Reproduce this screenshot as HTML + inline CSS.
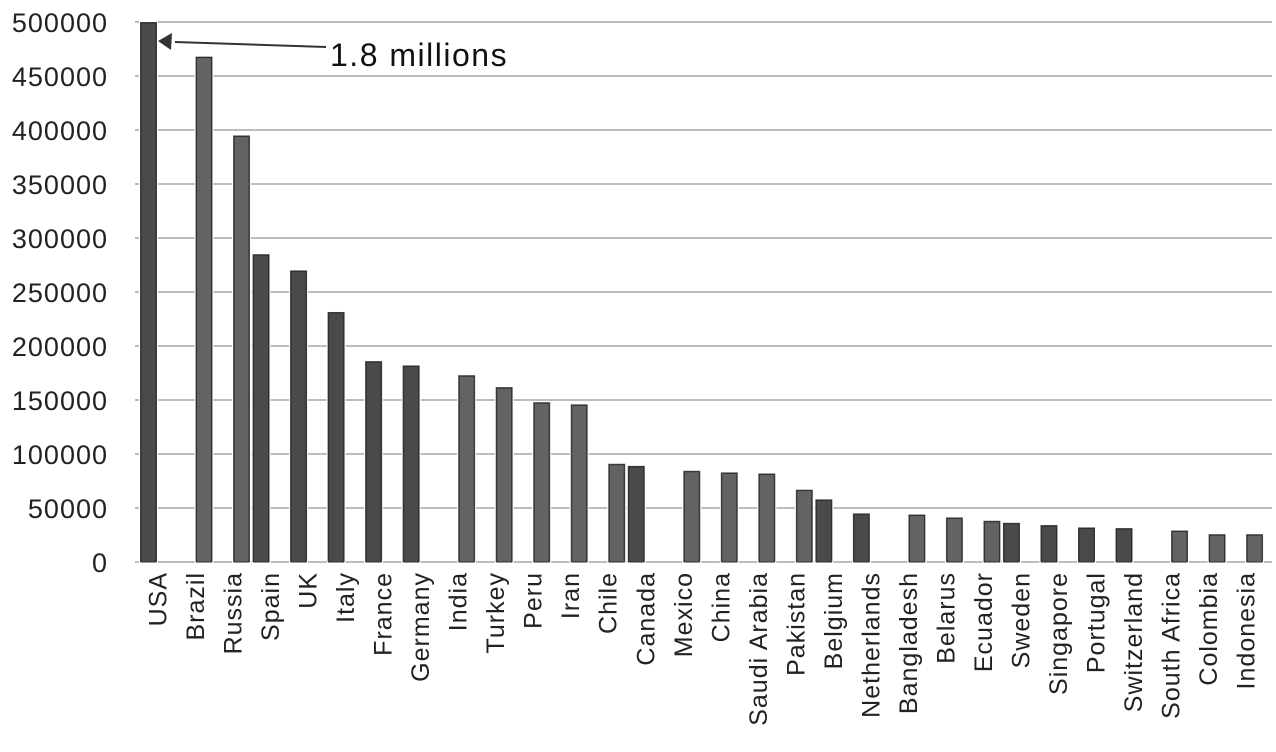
<!DOCTYPE html>
<html><head><meta charset="utf-8"><style>
body{margin:0;background:#fff;}
svg{display:block;font-family:"Liberation Sans",sans-serif;}
</style></head><body>
<svg id="chart" width="1276" height="752"></svg>
<script>
const categories=["USA","Brazil","Russia","Spain","UK","Italy","France","Germany","India","Turkey","Peru","Iran","Chile","Canada","Mexico","China","Saudi Arabia","Pakistan","Belgium","Netherlands","Bangladesh","Belarus","Ecuador","Sweden","Singapore","Portugal","Switzerland","South Africa","Colombia","Indonesia"];
const values=[1800000,468000,395000,285000,270000,231500,186000,182000,173000,162000,148000,146000,91000,89000,84500,83000,82000,67000,58000,45000,44000,41300,38200,36300,34200,32000,31400,29200,25800,25800];
const seriesSlot=[0,1,1,0,0,0,0,0,1,1,1,1,1,0,1,1,1,1,0,0,1,1,1,0,0,0,0,1,1,1];
const yTicks=[0,50000,100000,150000,200000,250000,300000,350000,400000,450000,500000];
const annotationText="1.8 millions";

const svg=document.getElementById('chart');
const NS="http://www.w3.org/2000/svg";
const yMax=500000, y0=562, yTop=22, xL=135, xR=1272;
const c0=157.5, band=37.52, barW=17;
function y(v){return y0-(Math.min(v,yMax)/yMax)*(y0-yTop);}
function xc(i){return c0+band*i;}
function mk(t,a){const e=document.createElementNS(NS,t);for(const k in a)e.setAttribute(k,a[k]);svg.appendChild(e);return e;}

yTicks.forEach(t=>{
  const l=mk('line',{x1:xL,x2:xR,y1:y(t),y2:y(t),stroke:'#bdbdbd','stroke-width':2});
  
  
  const tx=mk('text',{x:108,y:y(t)+10,'text-anchor':'end','font-size':27,'letter-spacing':1,fill:'#222'});
  tx.textContent=t;
  
  
});

categories.forEach((c,i)=>{
  const cx=xc(i)+(seriesSlot[i]?9:-9);
  const top=y(values[i]);
  const r=mk('rect',{x:cx-barW/2,y:top,width:barW,height:y0-top,fill:seriesSlot[i]?'#636363':'#4a4a4a',stroke:'#fff','stroke-width':2,'paint-order':'stroke'});
  
  
  const r2=mk('rect',{x:cx-barW/2+1,y:top+1,width:barW-2,height:y0-top-1,fill:'none',stroke:'#2e2e2e','stroke-width':1});
  
  
  const t=mk('text',{transform:`translate(${xc(i)+9},572) rotate(-90)`,'text-anchor':'end','font-size':25,'letter-spacing':1,fill:'#222'});
  t.textContent=c;
  
  
});

const ar=mk('path',{d:'M326,47 L175,42',stroke:'#333','stroke-width':2,fill:'none'});


const ah=mk('path',{d:'M158,41 L172,33 L171,50 Z',fill:'#333'});


const at=mk('text',{x:330,y:66,'font-size':32,'letter-spacing':1.5,fill:'#111'});
at.textContent=annotationText;


</script>
</body></html>
